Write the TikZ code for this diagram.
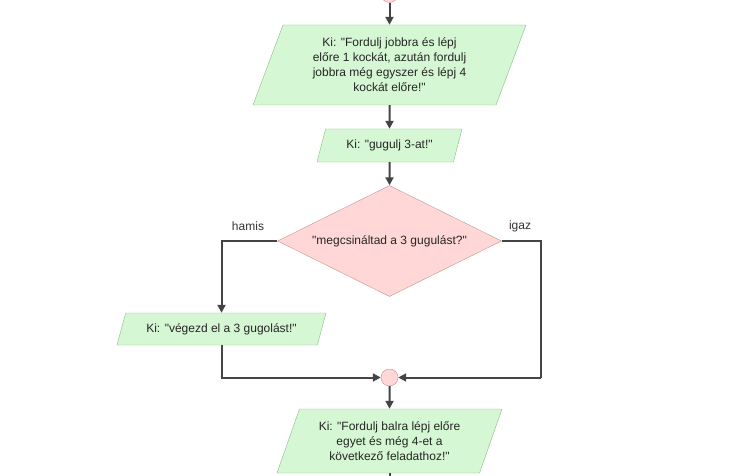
\documentclass[tikz,border=0pt]{standalone}
\usepackage{fontspec}
\setmainfont{Liberation Sans}[Ligatures=TeXOff]
\usepackage{tikz}
\usepackage{xcolor}
\usetikzlibrary{arrows.meta,calc,positioning,shapes}
\usetikzlibrary{shapes.geometric}
\definecolor{iofill}{HTML}{D5F7D3}
\definecolor{iodraw}{HTML}{8CBC88}
\definecolor{decfill}{HTML}{FFD7D7}
\definecolor{decdraw}{HTML}{C39494}
\definecolor{linegray}{HTML}{444444}
\tikzset{%
	inout/.style    = {draw=iodraw, fill=iofill, trapezium, trapezium left angle=63.43, trapezium right angle=116.57, trapezium stretches body, inner sep=3pt, align=center, text=black!85},
	decision/.style = {draw=decdraw, fill=decfill, diamond, aspect=1.6, inner sep=0pt, minimum width=224pt, minimum height=111pt, text centered, text=black!85},
	joint/.style    = {draw=decdraw, fill=decfill, circle, minimum size=17pt, inner sep=0pt},
	arrow/.style    = {line width=2pt, draw=linegray, -{Triangle[length=8pt,width=8pt]}},
	line/.style     = {line width=2pt, draw=linegray},
}

\begin{document}
\begin{tikzpicture}[x=1pt,y=-1pt,font=\fontsize{12}{15}\selectfont]
	\useasboundingbox (0,0) rectangle (749,476);
	\clip (0,0) rectangle (749,476);
	\node[joint] (start) at (389.5,-6) {};
	\node[inout, minimum width=273pt, minimum height=80pt] (out1) at (389.5,65) {Ki: "Fordulj jobbra és lépj\\előre 1 kockát, azután fordulj\\jobbra még egyszer és lépj 4\\kockát előre!"};
	\node[inout, minimum width=145pt, minimum height=33pt] (out2) at (389.5,145.5) {Ki: "gugulj 3-at!"};
	\node[decision] (check) at (389.5,241) {"megcsináltad a 3 gugulást?"};
	\node[inout, minimum width=209pt, minimum height=32pt] (out3) at (221.5,329) {Ki: "végezd el a 3 gugolást!"};
	\node[joint] (join) at (389.5,377.5) {};
	\node[inout, minimum width=225pt, minimum height=64pt] (out4) at (389.5,441) {Ki: "Fordulj balra lépj előre\\egyet és még 4-et a\\következő feladathoz!"};
	\coordinate (turn) at (541,377.5);  % right branch corner
	\coordinate (stop) at (389.5,490);
	% connectors
	\draw[arrow] (start) -- (out1);
	\draw[arrow] (out1) -- (out2);
	\draw[arrow] (out2) -- (check);
	\draw[arrow] (check.west) -| (out3.north);
	\draw[line] (check.east) -| (turn);
	\draw[arrow] (turn) -- (join.east);
	\draw[arrow] (out3.south) |- (join.west);
	\draw[arrow] (join) -- (out4);
	\draw[line] (out4) -- (stop);
	\node[text=black!80] at (248,226) {hamis};  % false branch
	\node[text=black!80] at (520,226) {igaz};  % true branch
\end{tikzpicture}
\end{document}
